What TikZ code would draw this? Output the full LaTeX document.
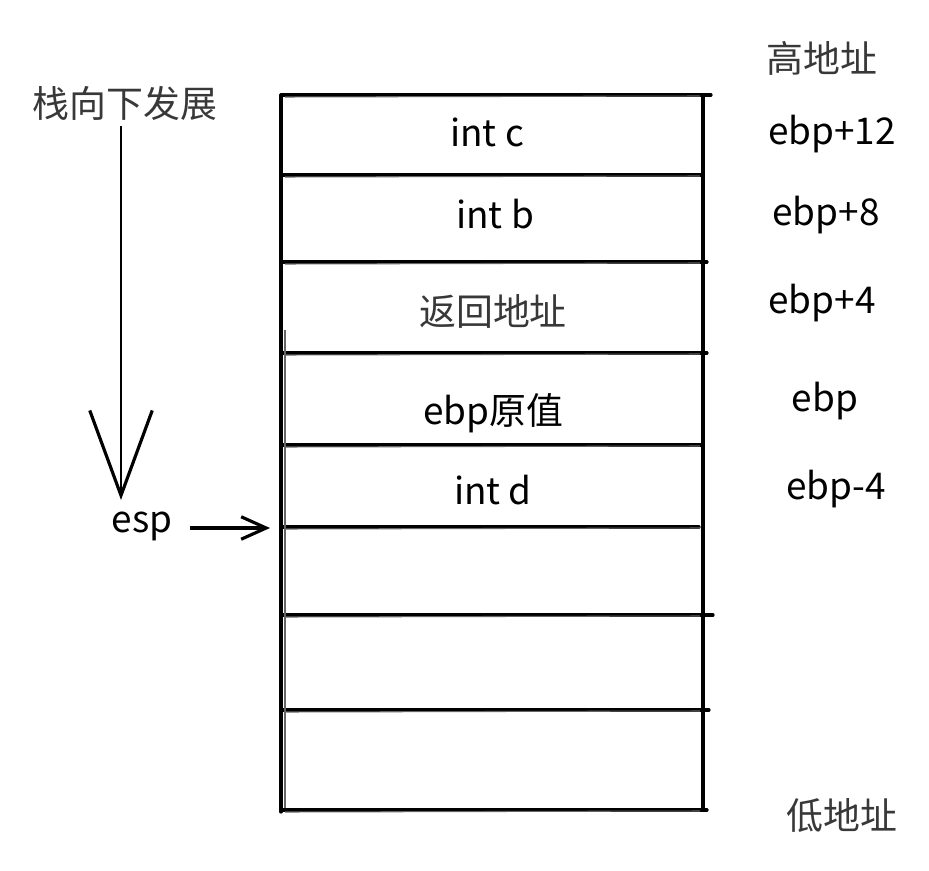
\documentclass[tikz,border=0pt]{standalone}
\usepackage{fontspec}
\setmainfont{Noto Sans CJK SC}
\usetikzlibrary{arrows.meta,positioning}

\begin{document}
\begin{tikzpicture}[x=0.02cm,y=-0.02cm,font=\fontsize{21}{25}\selectfont,
  cell/.style={inner sep=0pt},
  addr/.style={inner sep=0pt},
  hanzi/.style={inner sep=0pt,text=black!78},
  stroke/.style={line width=1.8pt,line cap=round}]
\useasboundingbox (0,0) rectangle (929,871);
\foreach \y/\e in {95/8,175/0,262/4,353/4,445/0,527/-4,615/10,710/6,810/4} {
  \draw[stroke] (281,\y) -- (703+\e,\y);
  \draw[line width=0.6pt,black!60] (285,\y+2) -- (700,\y+1);
}
\draw[stroke] (281,95) -- (281,812);
\draw[stroke] (703,95) -- (703,810);
\draw[line width=0.6pt,black!60] (285,330) -- (285,808);

\node[cell] (c) at (487,132) {int c};
\node[cell] (b) at (495,214) {int b};
\node[hanzi] (ret) at (493,311) {返回地址};
\node[cell] (oldebp) at (493,413) {ebp原值};
\node[cell] (d) at (493,490) {int d};

\node[hanzi] (high) at (822,58) {高地址};
\node[addr] (e12) at (832,134) {ebp+12};
\node[addr] (e8) at (826,215) {ebp+8};
\node[addr] (e4) at (822,303) {ebp+4};
\node[addr] (e0) at (825,401) {ebp};
\node[addr] (em4) at (836,489) {ebp-4};
\node[hanzi] (low) at (842,816) {低地址};

\node[hanzi] (grow) at (125,103) {栈向下发展};
\coordinate (tip) at (121,500);
\draw[line width=1.6pt,shorten <=0.12cm,-{Straight Barb[length=1.7cm,width=1.25cm,line width=1.8pt]}] (grow.south -| tip) -- (tip);

\node[cell] (esp) at (142,526) {esp};
\coordinate (edge) at (270,528);
\draw[line width=1.8pt,shorten <=0.34cm,-{Straight Barb[length=0.5cm,width=0.45cm,line width=1.8pt]}] (esp.east |- edge) -- (edge);
\end{tikzpicture}
\end{document}
